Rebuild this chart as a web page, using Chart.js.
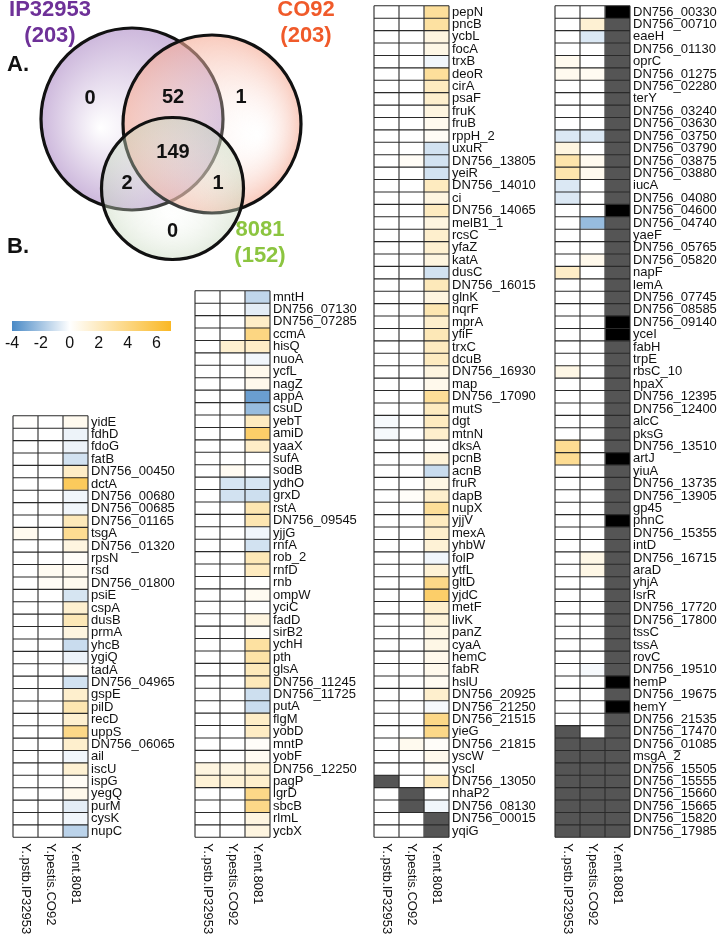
<!DOCTYPE html>
<html>
<head>
<meta charset="utf-8">
<script src="https://cdn.jsdelivr.net/npm/chart.js@4.4.1/dist/chart.umd.min.js"></script>
<style>
  html, body { margin: 0; padding: 0; background: #fff; }
  body { width: 720px; height: 938px; position: relative; overflow: hidden; }
  canvas { position: absolute; }
</style>
</head>
<body>
<canvas id="venn"></canvas>
<canvas id="color-key"></canvas>
<canvas id="heat-1"></canvas>
<canvas id="heat-2"></canvas>
<canvas id="heat-3"></canvas>
<canvas id="heat-4"></canvas>
<script>
/* Data */
let NA = null        // gene missing from that strain (dark grey)
let ND = -Infinity   // gene present but not detected (black)

let strains = ['Y..pstb.IP32953', 'Y.pestis.CO92', 'Y.ent.8081']

// Venn diagram
let vennSets = ['IP32953', 'CO92', '8081']
let vennSizes = [203, 203, 152]
// regions: IP only, IP+CO92, CO92 only, all three, IP+8081, CO92+8081, 8081 only
let vennCounts = [0, 52, 1, 149, 2, 1, 0]

// colour key
let keyMin = -4
let keyMax = 7
let keyTicks = [-4, -2, 0, 2, 4, 6]

// panel 1
let genes1 = ['yidE', 'fdhD', 'fdoG', 'fatB', 'DN756_00450', 'dctA', 'DN756_00680', 'DN756_00685', 'DN756_01165', 'tsgA',
  'DN756_01320', 'rpsN', 'rsd', 'DN756_01800', 'psiE', 'cspA', 'dusB', 'prmA', 'yhcB', 'ygiQ', 'tadA', 'DN756_04965',
  'gspE', 'pilD', 'recD', 'uppS', 'DN756_06065', 'ail', 'iscU', 'ispG', 'yegQ', 'purM', 'cysK', 'nupC']
let ip1 = [0.1, 0, 0, 0, 0, 0, 0, 0, 0, 0.5, 0, 0, 0, 0, 0, 0, 0, 0, 0, 0, 0, 0, 0, 0, 0, 0, 0, 0, 0, 0, 0, 0, 0, 0]
let co1 = [0, 0, 0, 0, 0, 0, 0, 0, 0, 0, 0, 0, 0.4, 0.3, 0, 0, 0, 0, 0, 0, 0, 0, 0, 0, 0, 0, 0, 0, 0, 0, 0, 0, 0, 0]
let ent1 = [0.5, -0.4, -0.4, -1.0, 1.8, 5.2, -0.3, -0.3, 2.2, 3.5, 1.0, 0.2, 0.5, 0.5, -0.9, 1.5, 2.3, 1.0, -1.2, -0.4,
  0.2, -1.0, 1.6, 2.5, 1.5, 3.8, 1.6, -0.3, 1.4, 0.3, 0.6, -0.6, -0.3, -1.5]

// panel 2
let genes2 = ['mntH', 'DN756_07130', 'DN756_07285', 'ccmA', 'hisQ', 'nuoA', 'ycfL', 'nagZ', 'appA', 'csuD', 'yebT', 'amiD',
  'yaaX', 'sufA', 'sodB', 'ydhO', 'grxD', 'rstA', 'DN756_09545', 'yjjG', 'rnfA', 'rob_2', 'rnfD', 'rnb', 'ompW', 'yciC',
  'fadD', 'sirB2', 'ychH', 'pth', 'glsA', 'DN756_11245', 'DN756_11725', 'putA', 'flgM', 'yobD', 'mntP', 'yobF',
  'DN756_12250', 'pagP', 'lgrD', 'sbcB', 'rlmL', 'ycbX']
let ip2 = [0, 0, 0, 0, 0, 0, 0, 0, 0, 0, 0, 0, 0, 0, 0, 0, 0, 0, 0, 0, 0, 0, 0, 0, 0, 0, 0, 0, 0, 0, 0, 0, 0, 0, 0, 0, 0, 0,
  1.0, 1.3, 0, 0, 0, 0]
let co2 = [0, 0, 0, 0, 1.5, 0, 0, 0, 0, 0, 0, 0, 0, 0, 0.4, -0.9, -1.0, 0, 0, 0, 0, 0, 0, 0, 0, 0, 0, 0, 0, 0, 0, 0, 0, 0,
  0, 0, 0, 0, 0.9, 1.3, 0, 0, 0, 0]
let ent2 = [-1.4, -0.6, 1.8, 4.0, 1.8, -0.3, 0.6, 0.6, -3.3, -2.3, 2.0, 4.8, 1.8, 0, 0, -0.9, -1.1, 2.5, 2.5, -0.3, -1.0,
  2.3, 2.0, 0, 0.4, 0, 1.0, 0.2, 3.0, 2.8, 2.2, 2.2, -1.1, -1.2, 1.8, 1.9, 0.2, 0.4, 1.3, 1.6, 3.8, 3.8, 1.0, 1.0]

// panel 3
let genes3 = ['pepN', 'pncB', 'ycbL', 'focA', 'trxB', 'deoR', 'cirA', 'psaF', 'fruK', 'fruB', 'rppH_2', 'uxuR',
  'DN756_13805', 'yeiR', 'DN756_14010', 'ci', 'DN756_14065', 'melB1_1', 'rcsC', 'yfaZ', 'katA', 'dusC', 'DN756_16015',
  'glnK', 'nqrF', 'mprA', 'yfiF', 'trxC', 'dcuB', 'DN756_16930', 'map', 'DN756_17090', 'mutS', 'dgt', 'mtnN', 'dksA',
  'pcnB', 'acnB', 'fruR', 'dapB', 'nupX', 'yjjV', 'mexA', 'yhbW', 'folP', 'ytfL', 'gltD', 'yjdC', 'metF', 'livK', 'panZ',
  'cyaA', 'hemC', 'fabR', 'hslU', 'DN756_20925', 'DN756_21250', 'DN756_21515', 'yieG', 'DN756_21815', 'yscW', 'yscI',
  'DN756_13050', 'nhaP2', 'DN756_08130', 'DN756_00015', 'yqiG']
let ip3 = [0, 0, 0, 0, 0, 0, 0, 0, 0, 0, 0, 0, 0, 0, 0, 0, 0, 0, 0, 0, 0, 0, 0, 0, 0, 0, 0, 0, 0, 0, 0, 0, 0, -0.2, -0.2,
  0, 0, 0, 0, 0, 0, 0, 0, 0, 0, 0, 0, 0, 0, 0, 0, 0, 0, 0, 0, 0, 0, 0, 0, 0, 0, 0, NA, 0, 0, 0, 0]
let co3 = [0, 0, 0, 0, 0, 0, 0, 0, 0, 0, 0, 0, 0.3, 0, 0, 0, 0, 0, 0, 0, 0, 0, 0, 0, 0, 0, 0, 0, 0, 0, 0, 0, 0, 0, 0,
  0, 0, 0, 0, 0.2, 0, 0, 0, 0, 0, 0, 0, 0, 0, 0, 0, 0, 0, 0, 0, 0, 0, 0, 0, 0.5, 0, 0, 0, NA, NA, 0, 0]
let ent3 = [3.2, 3.0, 1.0, 0.8, -0.3, 3.2, 2.0, 1.6, 1.0, 0.5, 0.3, -1.0, -1.0, -1.0, 2.0, 1.0, 2.0, 1.0, 1.6, 1.5, 1.0,
  -1.0, 2.2, 1.0, 2.5, 1.6, 2.3, 2.0, 2.0, 1.0, 0.6, 3.3, 2.0, 2.0, 1.6, 0.2, 1.2, -1.2, 0.8, 1.6, 3.3, 2.0, 1.6, 1.3,
  -0.3, 1.3, 3.8, 4.8, 1.6, 1.2, 0.8, 0.8, 0.6, 0.6, 0.4, 1.6, -0.2, 3.8, 3.8, 0.2, 0.6, 0.2, 2.3, 0, -0.3, NA, NA]

// panel 4
let genes4 = ['DN756_00330', 'DN756_00710', 'eaeH', 'DN756_01130', 'oprC', 'DN756_01275', 'DN756_02280', 'terY',
  'DN756_03240', 'DN756_03630', 'DN756_03750', 'DN756_03790', 'DN756_03875', 'DN756_03880', 'iucA', 'DN756_04080',
  'DN756_04600', 'DN756_04740', 'yaeF', 'DN756_05765', 'DN756_05820', 'napF', 'lemA', 'DN756_07745', 'DN756_08585',
  'DN756_09140', 'yceI', 'fabH', 'trpE', 'rbsC_10', 'hpaX', 'DN756_12395', 'DN756_12400', 'alcC', 'pksG', 'DN756_13510',
  'artJ', 'yiuA', 'DN756_13735', 'DN756_13905', 'gp45', 'phnC', 'DN756_15355', 'intD', 'DN756_16715', 'araD', 'yhjA',
  'lsrR', 'DN756_17720', 'DN756_17800', 'tssC', 'tssA', 'rovC', 'DN756_19510', 'hemP', 'DN756_19675', 'hemY',
  'DN756_21535', 'DN756_17470', 'DN756_01085', 'msgA_2', 'DN756_15505', 'DN756_15555', 'DN756_15660', 'DN756_15665',
  'DN756_15820', 'DN756_17985']
let ip4 = [0, 0, 0, 0, 0.5, 0.5, 0, 0, 0, 0, -0.8, 1.0, 2.7, 2.6, -0.8, -0.8, 0, 0, 0, 0, 0, 1.8, 0, 0, 0, 0, 0, 0, 0,
  0.8, 0, 0, 0, 0, 0, 3.5, 3.5, 0, 0, 0, 0, 0, 0, 0, 0, 0, 0, 0, 0, 0, 0, 0, 0, 0, 0, 0, 0, 0, NA, NA, NA, NA, NA, NA,
  NA, NA, NA]
let co4 = [0, 1.4, -0.8, 0, 0, 0.4, 0, 0, 0, 0, -0.8, 0, 0.5, 0.5, 0, 0, 0, -2.3, 0, 0, 0.6, 0, 0, 0, 0, 0, 0, 0, 0, 0,
  0, 0, 0, 0, 0, 0, 0, 0, 0, 0, 0, 0, 0, 0, 0.8, 0.8, 0, 0, 0, 0, 0, 0, 0, -0.2, 0, 0, 0, 0, 0, NA, NA, NA, NA, NA, NA,
  NA, NA]
let ent4 = [ND, NA, NA, NA, NA, NA, NA, NA, NA, NA, NA, NA, NA, NA, NA, NA, ND, NA, NA, NA, NA, NA, NA, NA, NA, ND, ND,
  NA, NA, NA, NA, NA, NA, NA, NA, NA, ND, NA, NA, NA, NA, ND, NA, NA, NA, NA, NA, NA, NA, NA, NA, NA, NA, NA, ND, NA,
  ND, NA, NA, NA, NA, NA, NA, NA, NA, NA, NA]

/* Layout */
let fontFamily = "'Liberation Sans', Arial, sans-serif"
Chart.defaults.font.family = fontFamily

let vennCircles = [{ x: 132, y: 119, r: 91 }, { x: 212, y: 124, r: 89 }, { x: 172.5, y: 188.5, r: 71 }]
let vennGlow = [{ x: 100, y: 128 }, { x: 258, y: 135 }, { x: 172, y: 215 }]
let vennInner = ['rgba(255,255,255,1)', 'rgba(255,255,255,0.15)', 'rgba(250,252,248,0.15)']
let vennEdge = ['rgb(205,184,220)', 'rgba(245,170,148,0.62)', 'rgba(196,214,186,0.45)']
let vennTitleColors = ['#6e3198', '#f05a2a', '#8cc540']
let vennTitlePos = [{ x: 50, y: 10 }, { x: 306, y: 10 }, { x: 260, y: 230 }]
let vennCountPos = [[90, 98], [173, 97], [241, 97], [173, 152], [127, 183], [218, 183], [172.5, 231]]
let vennPad = 96   // room Chart.js keeps around bubbles; the canvas is shifted by it

let gridBottom = 837.3
let colWidth = 25
let labelWidth = 92
let topPad = 10
let panelBoxes = [{ left: 13, top: 415 }, { left: 195, top: 290 }, { left: 374, top: 5 }, { left: 555, top: 5 }]

let blue = [74, 138, 198]
let orange = [250, 184, 36]

function cellColor(v) {
    if (v === null) return '#555555'
    if (v === -Infinity) return '#000000'
    let c = v < 0 ? blue : orange
    let t = v < 0 ? Math.min(-v / -keyMin, 1) : Math.min(v / keyMax, 1)
    let mix = c.map(ch => Math.round(255 + (ch - 255) * t))
    return 'rgb(' + mix.join(',') + ')'
}

/* Venn diagram */
let vennCanvas = document.getElementById('venn')
vennCanvas.width = 370 + 2 * vennPad
vennCanvas.height = 300 + 2 * vennPad
vennCanvas.style.left = -vennPad + 'px'
vennCanvas.style.top = -vennPad + 'px'

function vennFill(c, i) {
    let xs = c.chart.scales.x, ys = c.chart.scales.y
    if (!xs || !ys) return vennEdge[i]
    let circ = vennCircles[i], glow = vennGlow[i]
    let pts = [xs.getPixelForValue(glow.x), ys.getPixelForValue(glow.y), xs.getPixelForValue(circ.x), ys.getPixelForValue(circ.y)]
    // scales may not be laid out yet on the first pass
    if (!pts.every(Number.isFinite)) return vennEdge[i]
    let g = c.chart.ctx.createRadialGradient(pts[0], pts[1], 0, pts[2], pts[3], circ.r)
    g.addColorStop(0, vennInner[i])
    g.addColorStop(1, vennEdge[i])
    return g
}

let vennText = {
    id: 'vennText',
    afterDatasetsDraw(chart) {
        let ctx = chart.ctx, xs = chart.scales.x, ys = chart.scales.y
        ctx.save()
        ctx.textAlign = 'center'
        ctx.textBaseline = 'middle'
        ctx.font = 'bold 22px ' + fontFamily
        vennSets.forEach((name, i) => {
            let p = vennTitlePos[i]
            ctx.fillStyle = vennTitleColors[i]
            ctx.fillText(name, xs.getPixelForValue(p.x), ys.getPixelForValue(p.y))
            ctx.fillText('(' + vennSizes[i] + ')', xs.getPixelForValue(p.x), ys.getPixelForValue(p.y + 26))
        })
        ctx.fillStyle = '#111'
        ctx.textAlign = 'left'
        ctx.fillText('A.', xs.getPixelForValue(7), ys.getPixelForValue(65))
        ctx.fillText('B.', xs.getPixelForValue(7), ys.getPixelForValue(247))
        ctx.textAlign = 'center'
        ctx.font = 'bold 20px ' + fontFamily
        vennCounts.forEach((n, i) => {
            ctx.fillText(String(n), xs.getPixelForValue(vennCountPos[i][0]), ys.getPixelForValue(vennCountPos[i][1]))
        })
        ctx.restore()
    }
}

let vennChart = new Chart(vennCanvas, {
    type: 'bubble',
    data: {
        datasets: vennSets.map((name, i) => ({
            label: name,
            data: [vennCircles[i]],
            order: 2 - i,
            backgroundColor: c => vennFill(c, i),
            borderColor: '#111',
            borderWidth: 3.2,
            clip: false
        }))
    },
    options: {
        responsive: false,
        animation: false,
        events: [],
        layout: { padding: vennPad },
        plugins: { legend: { display: false }, tooltip: { enabled: false } },
        scales: {
            x: { display: false, min: 0, max: 370 },
            y: { display: false, min: 0, max: 300, reverse: true }
        }
    },
    plugins: [vennText]
})
vennChart.update()

/* Colour key */
let keyCanvas = document.getElementById('color-key')
keyCanvas.width = 190
keyCanvas.height = 49
keyCanvas.style.left = '0px'
keyCanvas.style.top = '310px'

let keyChart = new Chart(keyCanvas, {
    type: 'bar',
    data: {
        labels: [''],
        datasets: [{
            data: [[keyMin, keyMax]],
            barPercentage: 1,
            categoryPercentage: 1,
            borderSkipped: false,
            backgroundColor(c) {
                let xs = c.chart.scales.x
                if (!xs) return '#fff'
                let x0 = xs.getPixelForValue(keyMin), x1 = xs.getPixelForValue(keyMax)
                if (!Number.isFinite(x0) || !Number.isFinite(x1)) return '#fff'
                let g = c.chart.ctx.createLinearGradient(x0, 0, x1, 0)
                g.addColorStop(0, cellColor(keyMin))
                g.addColorStop(-keyMin / (keyMax - keyMin), cellColor(0))
                g.addColorStop(1, cellColor(keyMax))
                return g
            }
        }]
    },
    options: {
        indexAxis: 'y',
        responsive: false,
        animation: false,
        events: [],
        layout: { padding: { left: 12, right: 19, top: 11, bottom: 0 } },
        plugins: { legend: { display: false }, tooltip: { enabled: false } },
        scales: {
            x: {
                min: keyMin,
                max: keyMax,
                afterBuildTicks: axis => { axis.ticks = keyTicks.map(v => ({ value: v })) },
                afterFit: s => { s.height = 28 },
                ticks: { font: { size: 16 }, color: '#111', padding: 3 },
                grid: { display: false, drawTicks: false },
                border: { display: false }
            },
            y: { display: false }
        }
    }
})
keyChart.update()

/* Heatmap panels */
let cellGrid = {
    id: 'cellGrid',
    afterDatasetsDraw(chart) {
        let ctx = chart.ctx, xs = chart.scales.x, ys = chart.scales.y
        let nRows = chart.data.labels.length
        let left = xs.getPixelForValue(0), right = xs.getPixelForValue(strains.length)
        let top = ys.getPixelForValue(-0.5), bottom = ys.getPixelForValue(nRows - 0.5)
        ctx.save()
        ctx.strokeStyle = '#2a2a2a'
        ctx.lineWidth = 1.1
        ctx.beginPath()
        for (let i = 0; i <= nRows; i++) {
            let py = ys.getPixelForValue(i - 0.5)
            ctx.moveTo(left, py)
            ctx.lineTo(right, py)
        }
        for (let j = 0; j <= strains.length; j++) {
            let px = xs.getPixelForValue(j)
            ctx.moveTo(px, top)
            ctx.lineTo(px, bottom)
        }
        ctx.stroke()
        ctx.restore()
    },
    afterDraw(chart) {
        // strain names under the columns, reading downwards
        let ctx = chart.ctx, xs = chart.scales.x
        ctx.save()
        ctx.font = '13px ' + fontFamily
        ctx.fillStyle = '#111'
        ctx.textAlign = 'left'
        ctx.textBaseline = 'middle'
        strains.forEach((name, j) => {
            ctx.save()
            ctx.translate(xs.getPixelForValue(j + 0.5), chart.chartArea.bottom + 6)
            ctx.rotate(Math.PI / 2)
            ctx.fillText(name, 0, 0)
            ctx.restore()
        })
        ctx.restore()
    }
}

function heatmap(canvasId, box, genes, columns) {
    let canvas = document.getElementById(canvasId)
    canvas.width = 1 + colWidth * strains.length + labelWidth
    canvas.height = 938 + topPad - box.top
    canvas.style.left = (box.left - 1) + 'px'
    canvas.style.top = (box.top - topPad) + 'px'

    return new Chart(canvas, {
        type: 'bar',
        data: {
            labels: genes,
            datasets: columns.map((values, j) => ({
                label: strains[j],
                data: genes.map(() => 1),
                backgroundColor: values.map(cellColor),
                barPercentage: 1,
                categoryPercentage: 1,
                borderWidth: 0
            }))
        },
        options: {
            indexAxis: 'y',
            responsive: false,
            animation: false,
            events: [],
            layout: { padding: { left: 1, top: topPad, right: 0, bottom: 938 - gridBottom } },
            plugins: { legend: { display: false }, tooltip: { enabled: false } },
            scales: {
                x: { display: false, stacked: true, min: 0, max: strains.length },
                y: {
                    stacked: true,
                    position: 'right',
                    afterFit: s => { s.width = labelWidth },
                    ticks: { autoSkip: false, font: { size: 13 }, color: '#111', padding: 3 },
                    grid: { display: false, drawTicks: false },
                    border: { display: false }
                }
            }
        },
        plugins: [cellGrid]
    })
}

heatmap('heat-1', panelBoxes[0], genes1, [ip1, co1, ent1])
heatmap('heat-2', panelBoxes[1], genes2, [ip2, co2, ent2])
heatmap('heat-3', panelBoxes[2], genes3, [ip3, co3, ent3])
heatmap('heat-4', panelBoxes[3], genes4, [ip4, co4, ent4])
</script>
</body>
</html>
